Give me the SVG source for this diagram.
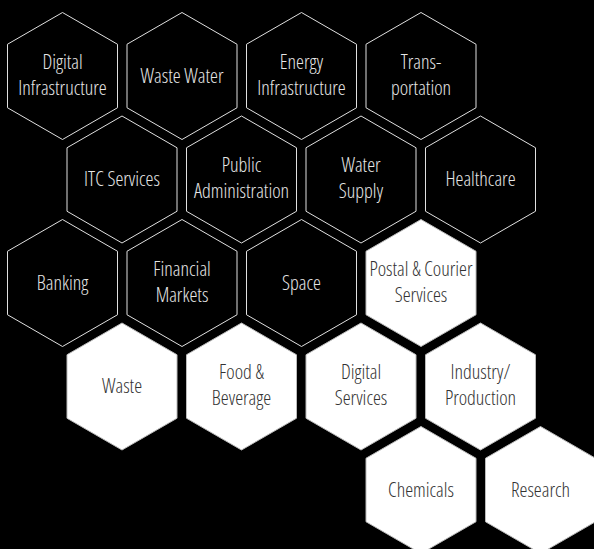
<svg xmlns="http://www.w3.org/2000/svg" xmlns:xlink="http://www.w3.org/1999/xlink" width="594" height="549" viewBox="0 0 594 549">
<style>
.dk use{fill:#000;stroke:#e0e0e0;stroke-width:1}
.lt use{fill:#fff;stroke:#bbb;stroke-width:1}
text{font-family:"Open Sans","Liberation Sans Narrow","Liberation Sans",sans-serif;font-stretch:condensed;font-weight:300;font-size:20px;text-anchor:middle}
.dk text{fill:#e6e6e6}
.lt text{fill:#333}
</style>
<defs>
<polygon id="hex" points="0,-63.5 55,-31.75 55,31.75 0,63.5 -55,31.75 -55,-31.75"/>
</defs>
<rect width="594" height="549" fill="#000"/>
<g id="digital-infrastructure" class="dk" transform="translate(62.5,76)"><use xlink:href="#hex" href="#hex"/><text y="-7.5">Digital</text><text y="18.5">Infrastructure</text></g>
<g id="waste-water" class="dk" transform="translate(182,76)"><use xlink:href="#hex" href="#hex"/><text y="6.5">Waste Water</text></g>
<g id="energy-infrastructure" class="dk" transform="translate(301.5,76)"><use xlink:href="#hex" href="#hex"/><text y="-7.5">Energy</text><text y="18.5">Infrastructure</text></g>
<g id="transportation" class="dk" transform="translate(421,76)"><use xlink:href="#hex" href="#hex"/><text y="-7.5">Trans-</text><text y="18.5">portation</text></g>
<g id="itc-services" class="dk" transform="translate(122,179.5)"><use xlink:href="#hex" href="#hex"/><text y="6.5">ITC Services</text></g>
<g id="public-administration" class="dk" transform="translate(241.5,179.5)"><use xlink:href="#hex" href="#hex"/><text y="-7.5">Public</text><text y="18.5">Administration</text></g>
<g id="water-supply" class="dk" transform="translate(361,179.5)"><use xlink:href="#hex" href="#hex"/><text y="-7.5">Water</text><text y="18.5">Supply</text></g>
<g id="healthcare" class="dk" transform="translate(480.5,179.5)"><use xlink:href="#hex" href="#hex"/><text y="6.5">Healthcare</text></g>
<g id="banking" class="dk" transform="translate(62.5,283)"><use xlink:href="#hex" href="#hex"/><text y="6.5">Banking</text></g>
<g id="financial-markets" class="dk" transform="translate(182,283)"><use xlink:href="#hex" href="#hex"/><text y="-7.5">Financial</text><text y="18.5">Markets</text></g>
<g id="space" class="dk" transform="translate(301.5,283)"><use xlink:href="#hex" href="#hex"/><text y="6.5">Space</text></g>
<g id="postal-courier-services" class="lt" transform="translate(421,283)"><use xlink:href="#hex" href="#hex"/><text y="-7.5">Postal &amp; Courier</text><text y="18.5">Services</text></g>
<g id="waste" class="lt" transform="translate(122,386.5)"><use xlink:href="#hex" href="#hex"/><text y="6.5">Waste</text></g>
<g id="food-beverage" class="lt" transform="translate(241.5,386.5)"><use xlink:href="#hex" href="#hex"/><text y="-7.5">Food &amp;</text><text y="18.5">Beverage</text></g>
<g id="digital-services" class="lt" transform="translate(361,386.5)"><use xlink:href="#hex" href="#hex"/><text y="-7.5">Digital</text><text y="18.5">Services</text></g>
<g id="industry-production" class="lt" transform="translate(480.5,386.5)"><use xlink:href="#hex" href="#hex"/><text y="-7.5">Industry/</text><text y="18.5">Production</text></g>
<g id="chemicals" class="lt" transform="translate(421,490)"><use xlink:href="#hex" href="#hex"/><text y="6.5">Chemicals</text></g>
<g id="research" class="lt" transform="translate(540.5,490)"><use xlink:href="#hex" href="#hex"/><text y="6.5">Research</text></g>
<g id="connectors"/>
</svg>
